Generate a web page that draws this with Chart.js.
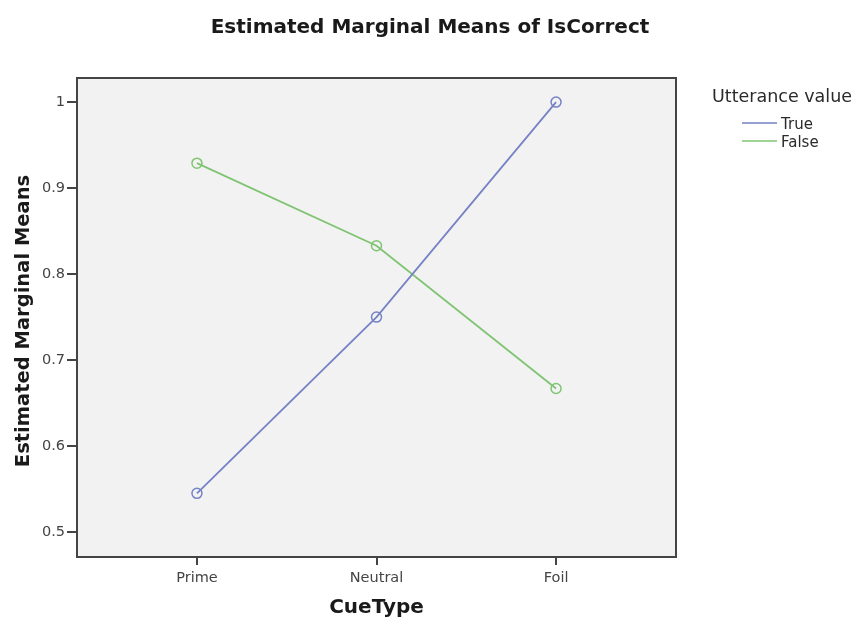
<!DOCTYPE html>
<html>
<head>
<meta charset="utf-8">
<script src="https://cdn.jsdelivr.net/npm/chart.js@4/dist/chart.umd.min.js"></script>
<style>
  html, body { margin: 0; padding: 0; background: #ffffff; }
  #wrap { width: 859px; height: 617px; position: relative; }
</style>
</head>
<body>
<div id="wrap"><canvas id="chart" width="859" height="617"></canvas></div>
<script>
// Cue types along the horizontal axis
const cueTypes = ["Prime", "Neutral", "Foil"];
// Estimated marginal means of IsCorrect per utterance value
const trueMeans = [0.545, 0.75, 1.0];
const falseMeans = [0.929, 0.833, 0.667];
// Vertical tick values
const yTicks = [0.5, 0.6, 0.7, 0.8, 0.9, 1];

const seriesNames = ["True", "False"];
const seriesColors = ["#7682c6", "#80c473"];

const FONT = "'DejaVu Sans', sans-serif";
const AXIS = '#444444';

function toPoints(vals) {
  return vals.map((v, i) => ({ x: i, y: v }));
}

// Plot panel background, frame, titles and legend
const decor = {
  id: 'decor',
  beforeDraw(chart) {
    const { ctx, chartArea: a } = chart;
    ctx.save();
    ctx.fillStyle = '#f2f2f2';
    ctx.fillRect(a.left, a.top, a.right - a.left, a.bottom - a.top);
    ctx.restore();
  },
  afterDraw(chart) {
    const { ctx, chartArea: a } = chart;
    ctx.save();
    ctx.strokeStyle = AXIS;
    ctx.lineWidth = 2;
    ctx.strokeRect(a.left, a.top, a.right - a.left, a.bottom - a.top);

    ctx.fillStyle = '#1a1a1a';
    ctx.textAlign = 'center';
    ctx.textBaseline = 'alphabetic';
    ctx.font = 'bold 20px ' + FONT;
    ctx.fillText('Estimated Marginal Means of IsCorrect', 430, 33);

    ctx.font = 'bold 20px ' + FONT;
    ctx.fillText('CueType', (a.left + a.right) / 2, 613);

    ctx.save();
    ctx.translate(29, 321);
    ctx.rotate(-Math.PI / 2);
    ctx.font = 'bold 19.5px ' + FONT;
    ctx.fillText('Estimated Marginal Means', 0, 0);
    ctx.restore();

    // legend
    ctx.textAlign = 'left';
    ctx.fillStyle = '#2a2a2a';
    ctx.font = '17.5px ' + FONT;
    ctx.fillText('Utterance value', 712, 102);
    ctx.font = '15px ' + FONT;
    chart.data.datasets.forEach((ds, i) => {
      const y = 123 + i * 18;
      ctx.strokeStyle = ds.borderColor;
      ctx.lineWidth = 1.5;
      ctx.beginPath();
      ctx.moveTo(742, y);
      ctx.lineTo(777, y);
      ctx.stroke();
      ctx.fillStyle = '#2a2a2a';
      ctx.fillText(ds.label, 781, y + 5.5);
    });
    ctx.restore();
  }
};

new Chart(document.getElementById('chart'), {
  type: 'line',
  data: {
    datasets: [
      { label: seriesNames[0], data: toPoints(trueMeans) },
      { label: seriesNames[1], data: toPoints(falseMeans) }
    ].map((ds, i) => Object.assign(ds, {
      borderColor: seriesColors[i],
      backgroundColor: 'rgba(0,0,0,0)',
      borderWidth: 1.8,
      pointRadius: 5,
      pointBorderWidth: 1.5,
      pointBackgroundColor: 'rgba(0,0,0,0)',
      pointBorderColor: seriesColors[i],
      tension: 0
    }))
  },
  options: {
    responsive: false,
    animation: false,
    layout: { padding: { left: 0, top: 78, right: 183, bottom: 0 } },
    plugins: { legend: { display: false }, title: { display: false }, tooltip: { enabled: false } },
    scales: {
      x: {
        type: 'linear',
        min: -0.668,
        max: 2.668,
        afterBuildTicks: s => { s.ticks = cueTypes.map((_, i) => ({ value: i })); },
        afterFit: s => { s.height = 60; },
        ticks: {
          autoSkip: false,
          maxRotation: 0,
          padding: 5,
          color: AXIS,
          font: { family: FONT, size: 14.5 },
          callback: v => cueTypes[v]
        },
        grid: { drawOnChartArea: false, drawTicks: true, tickLength: 8, color: AXIS, lineWidth: 2 },
        border: { display: true, color: AXIS, width: 2 }
      },
      y: {
        min: 0.471,
        max: 1.028,
        afterBuildTicks: s => { s.ticks = yTicks.map(v => ({ value: v })); },
        afterFit: s => { s.width = 77; },
        ticks: {
          padding: 2,
          color: AXIS,
          font: { family: FONT, size: 14.5 },
          callback: v => String(Math.round(v * 10) / 10)
        },
        grid: { drawOnChartArea: false, drawTicks: true, tickLength: 10, color: AXIS, lineWidth: 2 },
        border: { display: true, color: AXIS, width: 2 }
      }
    }
  },
  plugins: [decor]
});
</script>
</body>
</html>
